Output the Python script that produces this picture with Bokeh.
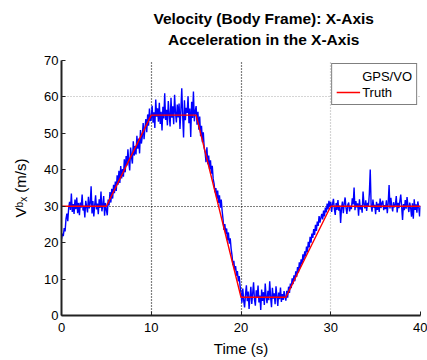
import numpy as np
from bokeh.plotting import figure
from bokeh.layouts import column
from bokeh.models import Range1d, FixedTicker, Grid, Legend, LegendItem
from bokeh.core.properties import value
from bokeh.embed import file_html
from bokeh.resources import INLINE

# ---- data ----
title_lines = ["Velocity (Body Frame): X-Axis", "Acceleration in the X-Axis"]
x_ticks = [0, 10, 20, 30, 40]
y_ticks = [0, 10, 20, 30, 40, 50, 60, 70]

truth_t = [0, 5, 10, 15, 20, 25, 30, 40]
truth_v = [30, 30, 55, 55, 5, 5, 30, 30]

gps_v = [
    21.0, 22.5, 21.8, 24.0, 23.1, 26.5, 28.0, 25.9, 29.5, 31.2,
    29.0, 33.5, 28.4, 30.6, 27.9, 31.8, 29.2, 32.4, 28.1, 30.9,
    27.5, 31.0, 29.6, 33.2, 28.8, 30.1, 26.9, 31.5, 29.9, 28.3,
    32.6, 29.4, 30.8, 35.5, 28.0, 31.4, 27.2, 30.3, 33.0, 29.1,
    30.7, 27.8, 31.9, 29.5, 34.0, 28.6, 30.2, 32.8, 27.4, 30.9,
    29.0, 27.5, 31.8, 30.2, 33.9, 31.0, 34.8, 32.1, 35.9, 33.6,
    36.8, 34.2, 38.5, 35.9, 39.7, 36.4, 41.0, 37.6, 40.2, 38.1,
    42.9, 39.3, 43.8, 41.2, 45.6, 42.0, 39.8, 46.1, 43.5, 41.7,
    47.8, 43.9, 46.5, 44.2, 49.3, 45.8, 48.6, 44.5, 50.9, 47.2,
    49.1, 52.8, 48.4, 51.6, 53.9, 50.3, 55.2, 52.1, 56.8, 53.4,
    54.0, 57.6, 52.9, 55.8, 51.5, 59.3, 54.6, 56.9, 53.2, 58.4,
    52.6, 55.9, 50.8, 57.3, 54.1, 61.0, 53.7, 56.5, 52.2, 58.9,
    55.1, 51.9, 59.8, 54.3, 57.4, 52.5, 60.6, 55.7, 53.0, 57.9,
    54.4, 58.2, 51.2, 56.3, 62.4, 55.0, 48.9, 59.1, 53.6, 57.0,
    55.6, 60.2, 52.8, 56.8, 49.0, 58.7, 54.2, 61.5, 53.3, 56.1,
    57.5, 52.4, 55.9, 51.0, 54.6, 49.2, 52.1, 47.6, 50.3, 46.0,
    44.8, 42.1, 46.2, 41.5, 43.9, 40.2, 42.6, 38.9, 41.1, 37.5,
    36.2, 33.8, 35.0, 32.1, 34.3, 30.9, 33.0, 29.6, 31.8, 28.7,
    26.4, 23.5, 25.1, 22.4, 23.9, 20.6, 22.8, 19.7, 21.2, 18.3,
    16.5, 13.8, 15.0, 12.4, 13.6, 10.9, 12.2, 9.4, 10.8, 7.9,
    6.2, 3.5, 7.4, 4.1, 2.2, 5.8, 8.3, 3.9, 6.6, 1.8,
    5.1, 7.9, 3.2, 6.0, 9.1, 4.4, 2.7, 6.9, 4.8, 8.2,
    3.6, 5.5, 1.5, 7.1, 4.0, 6.4, 2.9, 8.8, 5.2, 3.4,
    6.8, 4.2, 9.4, 5.0, 2.3, 7.6, 4.6, 6.1, 3.1, 8.0,
    5.4, 2.6, 6.3, 4.5, 7.7, 3.7, 5.9, 4.3, 6.7, 5.0,
    4.1, 6.8, 4.9, 7.9, 6.2, 8.8, 7.5, 10.2, 8.6, 11.0,
    9.4, 12.1, 10.6, 13.3, 11.8, 14.6, 13.0, 15.4, 14.1, 16.8,
    15.2, 17.6, 16.3, 18.9, 17.4, 20.2, 18.7, 21.6, 20.0, 22.5,
    21.3, 23.7, 22.1, 24.9, 23.2, 25.8, 24.6, 27.3, 25.5, 26.8,
    27.9, 26.4, 28.8, 27.2, 29.6, 28.3, 30.7, 29.1, 31.5, 29.8,
    31.2, 28.4, 30.6, 32.0, 29.3, 27.6, 30.9, 29.0, 31.7, 28.8,
    30.2, 25.4, 29.5, 31.3, 28.1, 30.7, 32.4, 29.6, 27.9, 30.4,
    31.0, 28.6, 30.1, 29.2, 32.2, 30.5, 35.1, 28.9, 31.4, 29.7,
    30.8, 27.4, 31.9, 29.1, 30.3, 28.2, 34.0, 30.6, 29.4, 31.6,
    28.7, 30.9, 29.8, 33.5, 40.1, 30.2, 28.5, 31.8, 29.6, 30.4,
    27.8, 31.2, 29.0, 30.7, 28.4, 32.1, 29.5, 30.9, 31.5, 28.9,
    30.3, 29.2, 31.6, 28.1, 30.8, 35.8, 29.4, 32.3, 30.0, 28.6,
    31.1, 29.7, 30.4, 32.8, 28.3, 30.9, 29.5, 31.4, 33.2, 29.9,
    26.2, 30.6, 28.9, 31.7, 29.3, 32.5, 30.1, 28.4, 31.0, 29.6,
    27.1, 30.8, 26.6, 31.9, 29.0, 30.5, 28.2, 31.3, 29.8, 27.2,
    30.1,
]
sample_dt = 0.1
gps_t = np.round(np.arange(len(gps_v)) * sample_dt, 2)

FONT = "Liberation Sans"
W = 427
TITLE_H = 52

# ---- title strip (pixel coordinates, y measured from the top) ----
tfig = figure(width=W, height=TITLE_H, output_backend="svg", toolbar_location=None,
              x_range=Range1d(0, W), y_range=Range1d(TITLE_H, 0),
              x_axis_location=None, y_axis_location=None,
              min_border=0, title_location=None)
tfig.outline_line_color = None
tfig.xgrid.visible = False
tfig.ygrid.visible = False
tfig.background_fill_color = "white"
tfig.border_fill_color = "white"
tfig.text(x=[240.5, 240.5], y=[17.5, 38.5], text=title_lines,
          text_align="center", text_baseline="alphabetic",
          text_font=value(FONT), text_font_size="15.5px", text_font_style="bold",
          text_color="black")

# ---- main plot ----
p = figure(width=W, height=360 - TITLE_H, output_backend="svg", toolbar_location=None,
           x_range=Range1d(0, 40), y_range=Range1d(0, 70),
           title_location=None,
           min_border_left=61, min_border_right=7, min_border_top=8,
           min_border_bottom=45)
p.background_fill_color = "white"
p.border_fill_color = "white"
p.outline_line_color = None

# grids
p.xgrid.ticker = FixedTicker(ticks=[10, 20])
p.xgrid.grid_line_color = "black"
p.xgrid.grid_line_dash = "1 2"
p.xgrid.grid_line_width = 1.2
p.ygrid.ticker = FixedTicker(ticks=[30])
p.ygrid.grid_line_color = "black"
p.ygrid.grid_line_dash = "1 2"
p.ygrid.grid_line_width = 1.2
p.add_layout(Grid(dimension=0, ticker=FixedTicker(ticks=[30, 40]),
                  grid_line_color="#aaaaaa", grid_line_dash="1 2", grid_line_width=1.2))
p.add_layout(Grid(dimension=1, ticker=FixedTicker(ticks=[60]),
                  grid_line_color="#aaaaaa", grid_line_dash="1 2", grid_line_width=1.2))

# axes
p.xaxis.ticker = FixedTicker(ticks=x_ticks)
p.yaxis.ticker = FixedTicker(ticks=y_ticks)
for ax in (p.xaxis[0], p.yaxis[0]):
    ax.axis_line_width = 2
    ax.axis_line_color = "#222222"
    ax.major_tick_in = 4
    ax.major_tick_out = 0
    ax.major_tick_line_color = "#222222"
    ax.minor_tick_line_color = None
    ax.major_label_text_font = FONT
    ax.major_label_text_font_size = "13px"
    ax.major_label_text_color = "black"
    ax.axis_label_text_font = FONT
    ax.axis_label_text_font_size = "15px"
    ax.axis_label_text_font_style = "normal"
    ax.axis_label_text_color = "black"
p.xaxis.axis_label = "Time (s)"
p.yaxis.axis_label = "V\u1d47\u2093 (m/s)"
p.xaxis.major_label_standoff = 7
p.xaxis.axis_label_standoff = 5
p.yaxis.major_label_standoff = 3
p.yaxis.axis_label_standoff = 12

gps = p.line(gps_t, gps_v, line_color="#0000ff", line_width=1.4)
truth = p.line(truth_t, truth_v, line_color="#ff0000", line_width=1.4)
dummy = p.line([0, 0], [0, 0], line_alpha=0)

legend = Legend(items=[LegendItem(label="GPS/VO", renderers=[dummy]),
                       LegendItem(label="Truth", renderers=[truth])],
                location="top_right")
legend.label_text_font = FONT
legend.label_text_font_size = "13px"
legend.label_text_color = "black"
legend.border_line_color = "black"
legend.border_line_width = 1
legend.padding = 4
legend.margin = 3
legend.spacing = 0
legend.glyph_width = 24
legend.glyph_height = 16
legend.label_height = 16
legend.label_standoff = 2
legend.background_fill_alpha = 1
p.add_layout(legend)

layout = column(tfig, p, spacing=0)
open("out.html", "w").write(file_html(layout, INLINE))
